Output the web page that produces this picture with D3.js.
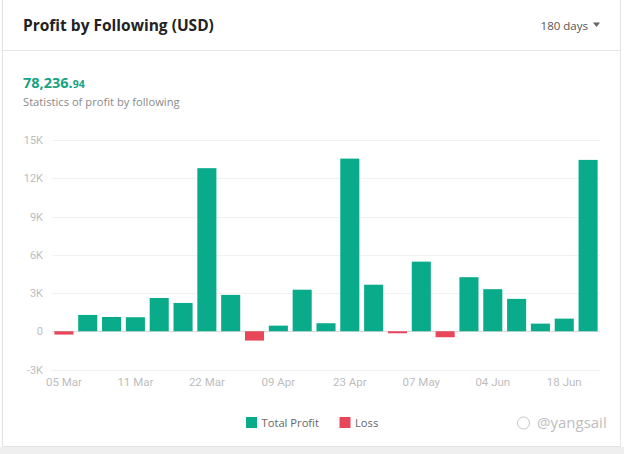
<!DOCTYPE html>
<html>
<head>
<meta charset="utf-8">
<script src="https://cdn.jsdelivr.net/npm/d3@7"></script>
<style>
html,body{margin:0;padding:0;background:#fff;}
svg{display:block;}
</style>
</head>
<body>
<svg id="chart" width="624" height="454"></svg>
<script>
// ---- data ----
const categories = ["05 Mar","07 Mar","09 Mar","11 Mar","15 Mar","18 Mar","22 Mar","26 Mar","02 Apr","09 Apr","13 Apr","18 Apr","23 Apr","27 Apr","02 May","07 May","14 May","28 May","04 Jun","08 Jun","12 Jun","18 Jun","23 Jun"];
const profitValues = [-260,1280,1120,1100,2610,2220,12790,2850,-730,440,3260,630,13540,3650,-160,5460,-470,4240,3300,2540,600,990,13440];
const yTicks = [-3000,0,3000,6000,9000,12000,15000];
const yTickLabels = ["-3K","0","3K","6K","9K","12K","15K"];
const xTickLabels = ["05 Mar","11 Mar","22 Mar","09 Apr","23 Apr","07 May","04 Jun","18 Jun"];
const seriesNames = ["Total Profit","Loss"];

const GREEN = "#0aab8a", RED = "#e8475a";
const FONT = "'Open Sans','Noto Sans',sans-serif";
const AXFONT = "Roboto,'Noto Sans',sans-serif";

const svg = d3.select("#chart");

// card
svg.append("rect").attr("x",2.5).attr("y",-1).attr("width",618).attr("height",447.5)
  .attr("fill","#fff").attr("stroke","#e3e3e3");
svg.append("rect").attr("x",0).attr("y",447).attr("width",624).attr("height",7).attr("fill","#efefef");
svg.append("line").attr("x1",3).attr("x2",620).attr("y1",50.5).attr("y2",50.5).attr("stroke","#e6e6e6");

// header
svg.append("text").attr("x",23).attr("y",31).attr("font-family",FONT).attr("font-size",15.5)
  .attr("font-weight",700).attr("fill","#222").text("Profit by Following (USD)");
svg.append("text").attr("x",588).attr("y",30).attr("text-anchor","end").attr("font-family",FONT)
  .attr("font-size",11.5).attr("fill","#555").text("180 days");
svg.append("path").attr("d","M593,22.5 L600,22.5 L596.5,27 Z").attr("fill","#666");

// total
const tot = svg.append("text").attr("x",23).attr("y",88).attr("font-family",FONT).attr("font-weight",700).attr("fill","#14a383");
tot.append("tspan").attr("font-size",14.5).text("78,236.");
tot.append("tspan").attr("font-size",10.5).text("94");
svg.append("text").attr("x",23).attr("y",106).attr("font-family",FONT).attr("font-size",11.2)
  .attr("fill","#8a8a8a").text("Statistics of profit by following");

// scales
const x = d3.scaleBand().domain(categories).range([52,600]).paddingInner(0.2).paddingOuter(0.1);
const y = d3.scaleLinear().domain([-3000,15000]).range([369.5,140]);

// grid
const g = svg.append("g");
g.selectAll("line.grid").data(yTicks).join("line")
  .attr("x1",52).attr("x2",600)
  .attr("y1",d=>Math.round(y(d))+0.5).attr("y2",d=>Math.round(y(d))+0.5)
  .attr("stroke",d=>d===0?"#dcdcdc":"#f2f2f2");

// y axis labels
const yAxis = d3.axisLeft(y).tickValues(yTicks).tickSize(0).tickPadding(0)
  .tickFormat(d=>yTickLabels[yTicks.indexOf(d)]);
const ya = svg.append("g").attr("transform","translate(43,0)").call(yAxis);
ya.select(".domain").remove();
ya.selectAll("text").attr("font-family",AXFONT).attr("font-size",11).attr("fill","#bdbdbd");

// bars
svg.append("g").selectAll("rect").data(profitValues).join("rect")
  .attr("x",(d,i)=>x(categories[i]))
  .attr("width",x.bandwidth())
  .attr("y",d=>d>=0?y(d):y(0))
  .attr("height",d=>Math.abs(y(d)-y(0)))
  .attr("fill",d=>d>=0?GREEN:RED);

// x axis labels
const xAxis = d3.axisBottom(x).tickValues(xTickLabels).tickSize(0).tickPadding(0);
const xa = svg.append("g").attr("transform","translate(0,378)").call(xAxis);
xa.select(".domain").remove();
xa.selectAll("text").attr("font-family",AXFONT).attr("font-size",11.5).attr("fill","#bdbdbd");

// legend
const legendColors = [GREEN, RED];
const legendX = [246, 339.5];
const lg = svg.append("g");
seriesNames.forEach((n,i)=>{
  lg.append("rect").attr("x",legendX[i]).attr("y",417).attr("width",11).attr("height",11).attr("fill",legendColors[i]);
  lg.append("text").attr("x",legendX[i]+15.5).attr("y",427).attr("font-family",FONT).attr("font-size",11.2)
    .attr("fill","#666").text(n);
});

// watermark
const wm = svg.append("g").attr("opacity",0.55);
wm.append("circle").attr("cx",523.5).attr("cy",423).attr("r",6).attr("fill","none").attr("stroke","#999").attr("stroke-width",1);
wm.append("text").attr("x",537).attr("y",428).attr("font-family",FONT).attr("font-size",15).attr("fill","#888").text("@yangsail");
</script>
</body>
</html>
